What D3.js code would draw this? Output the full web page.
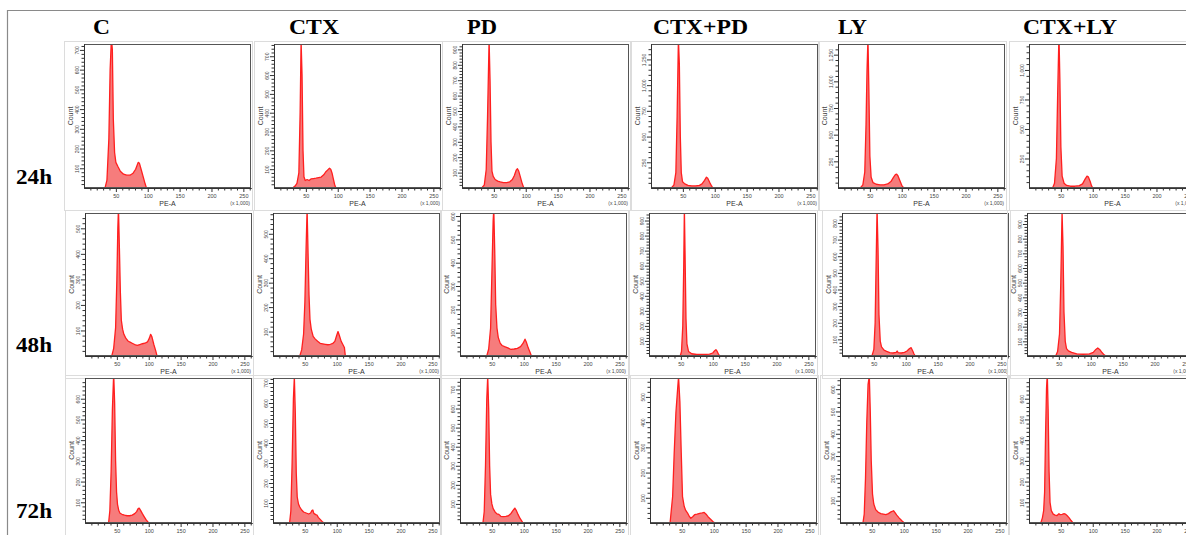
<!DOCTYPE html>
<html><head><meta charset="utf-8">
<script src="https://cdn.jsdelivr.net/npm/d3@7"></script>
<style>body{margin:0;background:#fff;} svg{display:block;}</style>
</head><body><svg id="c" width="1186" height="535"></svg>
<script>
// ---------- data ----------
const categories = ["C", "CTX", "PD", "CTX+PD", "LY", "CTX+LY"];
const times = ["24h", "48h", "72h"];
const xTicks = [50, 100, 150, 200, 250];
const xDomainMax = 262;

const yMax24 = [730, 765, 935, 1400, 1350, 1220];
const yStep24 = [100, 100, 100, 250, 250, 250];
const yMax48 = [560, 585, 613, 950, 860, 975];
const yStep48 = [100, 100, 100, 100, 100, 100];
const yMax72 = [700, 725, 760, 575, 650, 700];
const yStep72 = [100, 100, 100, 100, 100, 100];

// histograms: [PE-A (x1000), count]
const h24_C = [[33,0],[36,40],[39,250],[41,600],[43,760],[44.5,700],[46,350],[48,180],[50,130],[53,110],[57,85],[62,70],[67,65],[72,65],[77,75],[81,95],[85,130],[87,125],[90,90],[93,55],[96,20],[98,0]];
const h24_CTX = [[29,0],[33,10],[36,25],[39,80],[41,400],[42.5,780],[44,600],[45.5,200],[47,60],[49,40],[52,45],[55,40],[58,48],[62,50],[66,52],[70,55],[74,58],[78,70],[81,85],[84,95],[87,105],[89,100],[91,80],[93,50],[95,20],[97,0]];
const h24_PD = [[31,0],[35,20],[38,120],[40,450],[42.5,960],[44,700],[45.5,300],[47,110],[49,75],[52,55],[56,45],[60,40],[65,35],[70,35],[75,40],[79,55],[82,80],[85,115],[87,125],[89,110],[91,80],[94,35],[97,0]];
const h24_CTXPD = [[32,0],[36,30],[39,150],[41,700],[43,1450],[44.5,1200],[46,500],[47.5,150],[49.5,60],[53,40],[58,25],[64,20],[70,20],[76,25],[80,40],[84,75],[87,105],[89,95],[92,55],[95,20],[97,0]];
const h24_LY = [[35,0],[39,30],[42,150],[44,600],[45.5,1100],[47,1400],[48.5,900],[50,300],[52,100],[55,50],[60,35],[66,30],[72,30],[78,38],[83,60],[87,100],[90,125],[92,130],[94,115],[97,70],[100,25],[103,0]];
const h24_CTXLY = [[37,0],[40,40],[43,250],[45,800],[47,1300],[48.5,900],[50,350],[52,100],[55,40],[59,22],[65,15],[72,15],[79,20],[84,35],[88,75],[91,100],[93,95],[96,55],[98,20],[100,0]];

const h48_C = [[42,0],[45,30],[48,110],[50,300],[51.5,500],[52.5,580],[54,420],[55.5,250],[57,140],[59,105],[61,85],[64,70],[67,60],[70,55],[74,50],[78,45],[82,42],[86,45],[90,48],[94,50],[98,55],[101,70],[103,85],[105,75],[108,45],[111,20],[113,0]];
const h48_CTX = [[42,0],[45,25],[48,90],[50,220],[52,450],[53.5,600],[55,420],[56.5,250],[58,150],[60,110],[63,80],[66,70],[70,60],[74,52],[78,50],[82,48],[86,46],[90,48],[94,52],[97,60],[100,85],[102,100],[104,85],[107,60],[110,45],[112,35],[113.5,0]];
const h48_PD = [[42,0],[45,30],[48,120],[50,350],[52,580],[53,630],[54.5,450],[56,220],[58,120],[60,80],[63,55],[66,45],[70,40],[75,35],[80,28],[85,30],[90,33],[95,40],[99,55],[102,72],[104,60],[107,35],[110,15],[112,0]];
const h48_CTXPD = [[49,0],[51,30],[53,200],[54.5,600],[55.5,980],[56.5,700],[58,250],[59.5,80],[62,30],[67,15],[75,10],[85,10],[95,12],[100,20],[103,35],[105,42],[107,30],[109,12],[111,0]];
const h48_LY = [[47,0],[50,40],[52,200],[53.5,550],[55,880],[56.5,650],[58,250],[60,90],[62,55],[66,35],[70,28],[75,20],[80,18],[85,22],[86.5,30],[88,20],[93,18],[98,22],[102,30],[106,45],[108.5,50],[111,30],[113,12],[115,0]];
const h48_CTXLY = [[45,0],[48,30],[51,150],[53,500],[55,980],[56.5,750],[58,300],[60,100],[62,50],[65,35],[70,25],[78,15],[88,12],[98,14],[104,25],[108,45],[111,55],[114,45],[118,22],[121,8],[124,0]];

const h72_C = [[37,0],[39,60],[41,250],[43,550],[45,720],[46.5,580],[48,300],[49.5,150],[51,90],[53,60],[55,47],[58,42],[62,38],[66,35],[70,35],[74,38],[78,45],[81,55],[83,68],[85,72],[87,62],[90,45],[93,30],[96,15],[100,0]];
const h72_CTX = [[26,0],[28,60],[30,300],[32,620],[33.5,730],[35,550],[36.5,250],[38,130],[40,95],[42,80],[45,65],[48,55],[52,50],[56,45],[59,50],[61,62],[62.5,65],[64,48],[67,42],[69,40],[71,28],[74,18],[77,8],[80,0]];
const h72_PD = [[36,0],[38,60],[40,300],[42,650],[43.5,770],[45,600],[46.5,300],[48,150],[50,100],[52,75],[55,58],[58,48],[61,45],[64,35],[68,33],[72,35],[76,38],[80,50],[83,65],[86,78],[88,68],[91,45],[94,25],[97,10],[99,0]];
const h72_CTXPD = [[31.5,0],[33,40],[35.5,105],[38,280],[40.7,440],[43.3,530],[44.8,580],[46.9,480],[49,280],[51,105],[53.7,65],[56,50],[59,39],[62,25],[64,19],[67,25],[70,33],[74,35],[78,38],[82,40],[85,42],[88,35],[91,25],[95,15],[99,5],[102,0]];
const h72_LY = [[36,0],[38,40],[40,200],[42,450],[44,620],[46,660],[47.5,500],[49,280],[51,130],[53,85],[56,60],[60,48],[64,42],[68,40],[72,38],[76,42],[80,50],[84,55],[86,48],[89,35],[93,22],[97,10],[101,0]];
const h72_CTXLY = [[18.5,0],[21,25],[23,60],[24.5,150],[26,430],[27.5,650],[28.7,720],[30,550],[31.5,250],[33,100],[35,60],[38,43],[41,38],[44,36],[47,45],[49,40],[52,42],[55,45],[57,43],[60,35],[63,25],[66,12],[69,0]];

const hist = [
  [h24_C, h24_CTX, h24_PD, h24_CTXPD, h24_LY, h24_CTXLY],
  [h48_C, h48_CTX, h48_PD, h48_CTXPD, h48_LY, h48_CTXLY],
  [h72_C, h72_CTX, h72_PD, h72_CTXPD, h72_LY, h72_CTXLY]
];
const yMax = [yMax24, yMax48, yMax72];
const yStep = [yStep24, yStep48, yStep72];

// ---------- layout ----------
const W = 1186, H = 535;
const colLeft = [[84,274,462,651,838,1029],[85,273,460,649,842,1027],[85,273,460,650,840,1029]];
const plotW = 167;
const rowTop = [44, 213, 378], rowBottom = [188, 356, 523];
const titleX = [93, 289, 467, 653, 838, 1023];
const titleW = [17, 50, 30, 95, 29, 94];
const rowLabelBase = [184, 352, 518];
const sans = "Liberation Sans, Arial, sans-serif";
const serif = "Liberation Serif, Times New Roman, serif";
const fmt = d3.format(",");

const svg = d3.select("#c");
svg.append("rect").attr("width", W).attr("height", H).attr("fill", "#fff");
svg.append("path").attr("d", `M7.5,${H}V10.5H${W}`).attr("fill", "none").attr("stroke", "#8a8a8a").attr("stroke-width", 1.2);

// column titles
categories.forEach((c, i) => {
  svg.append("text").attr("x", titleX[i]).attr("y", 34).text(c)
    .attr("font-family", serif).attr("font-weight", "bold").attr("font-size", 20)
    .attr("textLength", titleW[i]).attr("lengthAdjust", "spacingAndGlyphs").attr("fill", "#000");
});
// row labels
times.forEach((t, r) => {
  svg.append("text").attr("x", 16).attr("y", rowLabelBase[r]).text(t)
    .attr("font-family", serif).attr("font-weight", "bold").attr("font-size", 20)
    .attr("textLength", 36).attr("lengthAdjust", "spacingAndGlyphs").attr("fill", "#000");
});

const defs = svg.append("defs");

times.forEach((t, r) => {
  categories.forEach((cat, c) => {
    const L = colLeft[r][c], T = rowTop[r], B = rowBottom[r];
    const x = d3.scaleLinear().domain([0, xDomainMax]).range([L, L + plotW]);
    const y = d3.scaleLinear().domain([0, yMax[r][c]]).range([B, T]);
    const g = svg.append("g");

    // faint image frame
    g.append("rect").attr("x", L - 19.5).attr("y", T - 2.5).attr("width", plotW + 21).attr("height", B - T + 25)
      .attr("fill", "none").attr("stroke", "#dcdcdc").attr("stroke-width", 1);

    const id = `clip${r}_${c}`;
    defs.append("clipPath").attr("id", id).append("rect")
      .attr("x", L).attr("y", T).attr("width", plotW).attr("height", B - T);

    const data = hist[r][c];
    g.append("path").datum(data).attr("clip-path", `url(#${id})`)
      .attr("d", d3.area().x(d => x(d[0])).y0(B).y1(d => y(d[1])))
      .attr("fill", "#f67c7c");
    g.append("path").datum(data).attr("clip-path", `url(#${id})`)
      .attr("d", d3.line().x(d => x(d[0])).y(d => y(d[1])))
      .attr("fill", "none").attr("stroke", "#ff1f1f").attr("stroke-width", 1.3).attr("stroke-linejoin", "round");

    // plot frame
    g.append("rect").attr("x", L + 0.5).attr("y", T + 0.5).attr("width", plotW - 1).attr("height", B - T - 1)
      .attr("fill", "none").attr("stroke", "#555").attr("stroke-width", 1);

    // x axis: minor then major
    const minorX = d3.range(10, 261, 10).filter(v => v % 50 !== 0);
    const axMinX = g.append("g").attr("transform", `translate(0,${B})`)
      .call(d3.axisBottom(x).tickValues(minorX).tickSize(2.5).tickSizeOuter(0).tickFormat(""));
    const axX = g.append("g").attr("transform", `translate(0,${B})`)
      .call(d3.axisBottom(x).tickValues(xTicks).tickSize(4).tickPadding(2).tickSizeOuter(0));
    [axMinX, axX].forEach(a => {
      a.select(".domain").attr("stroke", "#333");
      a.selectAll(".tick line").attr("stroke", "#333");
    });
    axX.selectAll("text").attr("font-size", 5.5).attr("font-family", sans).attr("fill", "#444");

    // y axis
    const step = yStep[r][c];
    const ymx = yMax[r][c];
    const majorY = d3.range(step, ymx, step);
    const minorY = d3.range(step / 5, ymx, step / 5).filter(v => Math.abs(v / step - Math.round(v / step)) > 1e-6);
    const axMinY = g.append("g").attr("transform", `translate(${L},0)`)
      .call(d3.axisLeft(y).tickValues(minorY).tickSize(2.5).tickSizeOuter(0).tickFormat(""));
    const axY = g.append("g").attr("transform", `translate(${L},0)`)
      .call(d3.axisLeft(y).tickValues(majorY).tickSize(4).tickSizeOuter(0).tickFormat(fmt));
    [axMinY, axY].forEach(a => {
      a.select(".domain").attr("stroke", "#333");
      a.selectAll(".tick line").attr("stroke", "#333");
    });
    axY.selectAll("text").attr("x", 0).attr("dy", 0).attr("text-anchor", "middle")
      .attr("transform", "translate(-5,0) rotate(-90)")
      .attr("font-size", 5).attr("font-family", sans).attr("fill", "#444");

    // labels
    g.append("text").attr("x", L + plotW / 2).attr("y", B + 18).attr("text-anchor", "middle")
      .attr("font-size", 7).attr("font-family", sans).attr("fill", "#333").text("PE-A");
    g.append("text").attr("x", L + plotW - 1).attr("y", B + 17).attr("text-anchor", "end")
      .attr("font-size", 5).attr("font-family", sans).attr("fill", "#444").text("(x 1,000)");
    g.append("text").attr("transform", `translate(${L - 11},${(T + B) / 2}) rotate(-90)`).attr("text-anchor", "middle")
      .attr("font-size", 7).attr("font-family", sans).attr("fill", "#444").text("Count");
  });
});
</script>
</body></html>
